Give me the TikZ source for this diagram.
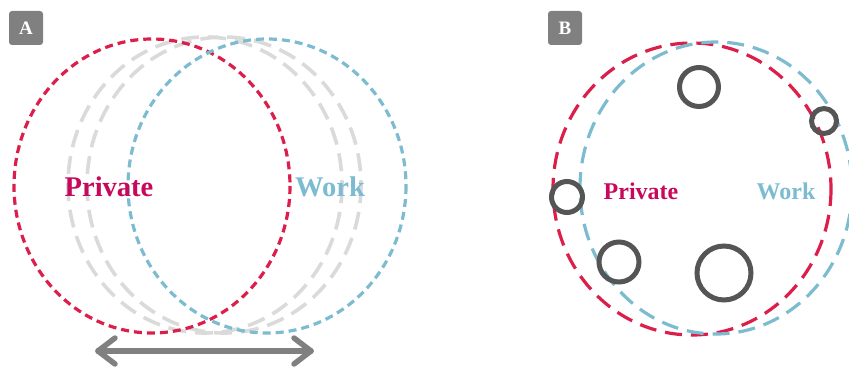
\documentclass[tikz,border=0pt]{standalone}
\usepackage{fontspec}
\setmainfont{Liberation Serif}
\usetikzlibrary{arrows.meta}
\definecolor{privred}{HTML}{DC1E4A}
\definecolor{privtext}{HTML}{C8085A}
\definecolor{workblue}{HTML}{7DBCD0}
\definecolor{ghost}{HTML}{DADADA}
\definecolor{badge}{HTML}{808080}
\definecolor{ring}{HTML}{555555}
\tikzset{
  badgebox/.style={fill=badge, rounded corners=3pt, minimum width=34pt, minimum height=34pt,
    text=white, font=\bfseries\fontsize{19}{19}\selectfont, inner sep=0pt},
  shortdash/.style={dash pattern=on 8pt off 5pt, line width=3.2pt},
  longdash/.style={dash pattern=on 17pt off 9pt, line width=3.2pt},
  ghostdash/.style={ghost, dash pattern=on 18pt off 9pt, line width=3.6pt},
  ringline/.style={ring, line width=5pt},
  biglabel/.style={font=\bfseries\fontsize{28.5}{28.5}\selectfont, inner sep=0pt},
  smalllabel/.style={font=\bfseries\fontsize{24}{24}\selectfont, inner sep=0pt},
  spanline/.style={badge, line width=5.5pt, line cap=round, line join=round},
}
\begin{document}
\begin{tikzpicture}[x=1pt,y=-1pt]
\useasboundingbox (0,0) rectangle (849,369);
\begin{scope}
\clip (0,0) rectangle (849,369);

% ---- Panel A: two spheres drifting apart ----
\node[badgebox] (badgeA) at (26,28) {A};
\draw[ghostdash] (205,185) ellipse [x radius=137, y radius=148];
\draw[ghostdash] (224,185) ellipse [x radius=137, y radius=148];
\draw[privred, shortdash] (152,186) ellipse [x radius=138, y radius=147];
\draw[workblue, shortdash] (267,186) ellipse [x radius=139, y radius=147];
\node[biglabel, text=privtext] (privA) at (109,187) {Private};
\node[biglabel, text=workblue] (workA) at (330,187) {Work};

\coordinate (arrL) at (98,351);
\coordinate (arrR) at (311,351);
\draw[spanline] (arrL) -- (arrR);
\draw[spanline] ([shift={(17,-13)}]arrL) -- (arrL) -- ([shift={(17,13)}]arrL);
\draw[spanline] ([shift={(-17,-13)}]arrR) -- (arrR) -- ([shift={(-17,13)}]arrR);

% ---- Panel B: merged spheres with bridging elements ----
\node[badgebox] (badgeB) at (565,28) {B};
\draw[privred, longdash] (692,189) ellipse [x radius=139, y radius=146];
\draw[workblue, longdash] (716,188) ellipse [x radius=136, y radius=146];
\node[smalllabel, text=privtext] (privB) at (641,191) {Private};
\node[smalllabel, text=workblue] (workB) at (786,191) {Work};

\draw[ringline] (699,87) circle (19.5);
\draw[ringline] (824,121) circle (12.5);
\draw[ringline] (567,197) circle (15.5);
\draw[ringline] (619,262) circle (20);
\draw[ringline] (724,273) circle (27);
\end{scope}
\end{tikzpicture}
\end{document}
